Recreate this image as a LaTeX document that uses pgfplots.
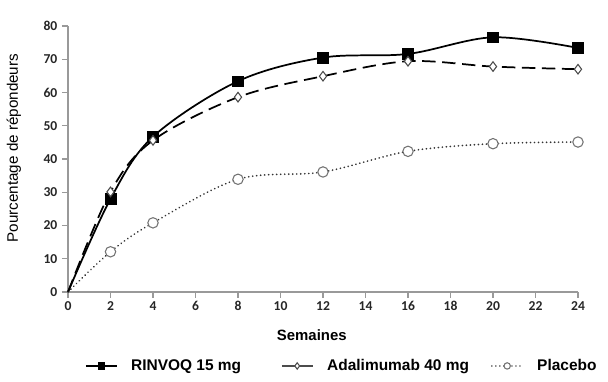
\documentclass[border=0pt]{standalone}
\usepackage{fontspec}
\setmainfont{Liberation Sans}
\newfontfamily\tickfont{Carlito}
\usepackage{pgfplots}
\pgfplotsset{compat=1.18}
\begin{document}
\begin{tikzpicture}
\path (0,0) rectangle (456pt,286.5pt);
\begin{axis}[
  at={(51pt,67.5pt)}, anchor=south west,
  scale only axis, width=382.5pt, height=199.5pt,
  xmin=0, xmax=24, ymin=0, ymax=80,
  axis x line*=bottom, axis y line*=left,
  axis line style={gray!80, line width=0.9pt},
  xtick={0,2,...,24}, ytick={0,10,...,80},
  tick align=outside, major tick length=4.5pt,
  tick style={gray!80, line width=0.8pt},
  clip=false,
  /pgf/number format/assume math mode=true,
  ticklabel style={font=\tickfont\bfseries\fontsize{10.2}{12}\selectfont, color=black!85},
  xticklabel style={yshift=1pt},
  xlabel={\textbf{Semaines}},
  xlabel style={at={(axis description cs:0.478,-0.162)}, anchor=center, font=\fontsize{11.2}{13}\selectfont},
  ylabel={Pourcentage de répondeurs},
  ylabel style={at={(axis description cs:-0.106,0.541)}, anchor=center, font=\fontsize{11.4}{13}\selectfont},
  legend columns=3,
  legend cell align=left,
  legend style={draw=none, fill=none, at={(0.535,-0.278)}, anchor=center, font=\bfseries\fontsize{11.6}{13}\selectfont,
    nodes={inner sep=0pt},
    /tikz/every odd column/.append style={column sep=10.5pt}},
  legend image code/.code={
    \draw[#1, line width=1pt] (0pt,0pt) -- (23pt,0pt);
    \draw[#1, line width=0.6pt, mark size=2.4pt, mark indices={1}] plot coordinates {(11.5pt,0pt)};},
]
\addplot[black, line width=1.3pt, smooth, tension=0.55, mark=square*, mark size=4pt, mark indices={2,...,8}, mark options={solid, fill=black, line width=0.4pt}]
  coordinates {(0,0) (2,28) (4,46.7) (8,63.4) (12,70.5) (16,71.6) (20,76.6) (24,73.4)};
\addlegendentry{\makebox[112.5pt][l]{RINVOQ 15 mg}}
\addplot[black, line width=1.3pt, dash pattern=on 10pt off 5pt, smooth, tension=0.55, mark=diamond*, mark size=3.6pt, mark indices={2,...,8}, mark options={solid, fill=white, draw=black!70, line width=0.8pt}, legend image post style={solid, draw=black!70}]
  coordinates {(0,0) (2,30.1) (4,45.6) (8,58.6) (12,64.9) (16,69.4) (20,67.8) (24,67)};
\addlegendentry{\makebox[123pt][l]{Adalimumab 40 mg}}
\addplot[black!80, line width=1.4pt, dash pattern=on 0.01pt off 3pt, line cap=round, smooth, tension=0.55, mark=*, mark size=3.9pt, mark indices={2,...,8}, mark options={solid, fill=white, draw=black!55, line width=0.8pt}]
  coordinates {(0,0) (2,12.1) (4,20.8) (8,33.9) (12,36.1) (16,42.3) (20,44.6) (24,45.1)};
\addlegendentry{Placebo}
\end{axis}
\end{tikzpicture}
\end{document}
